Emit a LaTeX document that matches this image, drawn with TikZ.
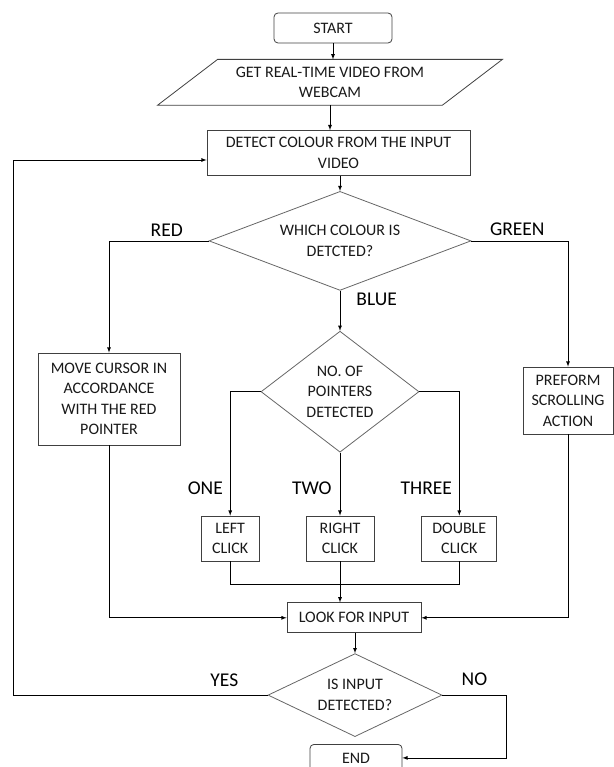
\documentclass[tikz,border=0pt]{standalone}
\usepackage{fontspec}
\setmainfont{Carlito}
\usepackage{tikz}
\usetikzlibrary{positioning,shapes.geometric}

\tikzset{
  boxtext/.style={font=\fontsize{16}{20.5}\selectfont, text=black!90, align=center, inner sep=2pt},
  procbox/.style={boxtext, draw=black!75, rectangle},
  termbox/.style={procbox, rounded corners=4pt},
  decision/.style={boxtext, draw=black!60, diamond, inner sep=0pt},
  branchlabel/.style={font=\fontsize{19.5}{22}\selectfont, text=black, inner sep=2pt},
  flow/.style={draw=black, ->}
}

\begin{document}
\begin{tikzpicture}[x=1pt, y=-1pt, line width=0.8pt, >=latex]
            \useasboundingbox (0,0) rectangle (613,767);

            \node (start) [termbox, minimum width=118pt, minimum height=30pt] at (333,28) {START};
            \node (video) [boxtext, minimum width=224pt, minimum height=45pt, below=16pt of start, xshift=-3pt] {GET REAL-TIME VIDEO FROM\\WEBCAM};
            \draw[draw=black!75] (video.north west) -- ([xshift=60pt]video.north east) -- (video.south east) -- ([xshift=-60pt]video.south west) -- cycle;
            \node (detect) [procbox, minimum width=263pt, minimum height=45pt, below=25pt of video, xshift=8.5pt] {DETECT COLOUR FROM THE INPUT\\VIDEO};
            \node (colour) [decision, aspect=2.6, minimum width=262pt, minimum height=99pt, below=15pt of detect, xshift=1.5pt] {WHICH COLOUR IS\\DETCTED?};
            \node (move) [procbox, minimum width=142pt, minimum height=92pt] at (109,399) {MOVE CURSOR IN\\ACCORDANCE\\WITH THE RED\\POINTER};
            \node (scroll) [procbox, minimum width=90pt, minimum height=67pt] at (568,400.5) {PREFORM\\SCROLLING\\ACTION};
            \node (pointers) [decision, aspect=1.3, minimum width=158pt, minimum height=121pt, below=40pt of colour] {NO. OF\\POINTERS\\DETECTED};
            \node (rclick) [procbox, minimum width=68pt, minimum height=45pt, below=63pt of pointers] {RIGHT\\CLICK};
            \node (lclick) [procbox, minimum width=58pt, minimum height=45pt, left=46pt of rclick] {LEFT\\CLICK};
            \node (dclick) [procbox, minimum width=75pt, minimum height=45pt, right=47pt of rclick] {DOUBLE\\CLICK};
            \node (look) [procbox, minimum width=134pt, minimum height=30pt, below=41pt of rclick, xshift=14pt] {LOOK FOR INPUT};
            \node (input) [decision, aspect=2.1, minimum width=174pt, minimum height=83pt, below=20pt of look, xshift=1pt] {IS INPUT\\DETECTED?};
            \node (end) [termbox, minimum width=92pt, minimum height=27pt, below=7pt of input, xshift=1pt] {END};
            \coordinate (loop) at (13,160);

            \draw[flow] (start) -- (start |- video.north);
            \draw[flow] (video.south) -- (video.south |- detect.north);
            \draw[flow] (colour.north |- detect.south) -- (colour.north);
            \draw[flow] (colour.west) -- node[branchlabel, above=2pt, pos=0.42] (lred) {RED} (move.north |- colour.west) -- (move.north);
            \draw[flow] (colour.east) -- node[branchlabel, above=3pt, pos=0.475] (lgreen) {GREEN} (scroll.north |- colour.east) -- (scroll.north);
            \draw[flow] (colour.south) -- node[branchlabel, right=14pt, pos=0.22] (lblue) {BLUE} (pointers.north);
            \draw[flow] (pointers.west) -- (pointers.west -| lclick.north) -- node[branchlabel, left=5pt, pos=0.78] (lone) {ONE} (lclick.north);
            \draw[flow] (pointers.south) -- node[branchlabel, left=6pt, pos=0.57] (ltwo) {TWO} (rclick.north);
            \draw[flow] (pointers.east) -- (pointers.east -| dclick.north) -- node[branchlabel, left=5pt, pos=0.78] (lthree) {THREE} (dclick.north);
            \draw (lclick.south) -- ++(0,23) -| (dclick.south);
            \draw[flow] (rclick.south) -- (rclick.south |- look.north);
            \draw[flow] (move.south) -- (move.south |- look.west) -- (look.west);
            \draw[flow] (scroll.south) -- (scroll.south |- look.east) -- (look.east);
            \draw[flow] (look.south -| input.north) -- (input.north);
            \draw[flow] (input.west) -- node[branchlabel, above=6pt, pos=0.17] (lyes) {YES} (input.west -| loop) -- (loop) -- (loop -| detect.west);
            \draw[flow] (input.east) -- node[branchlabel, above=7pt, pos=0.5] (lno) {NO} ++(64,0) |- (end.east);
        \end{tikzpicture}
\end{document}
